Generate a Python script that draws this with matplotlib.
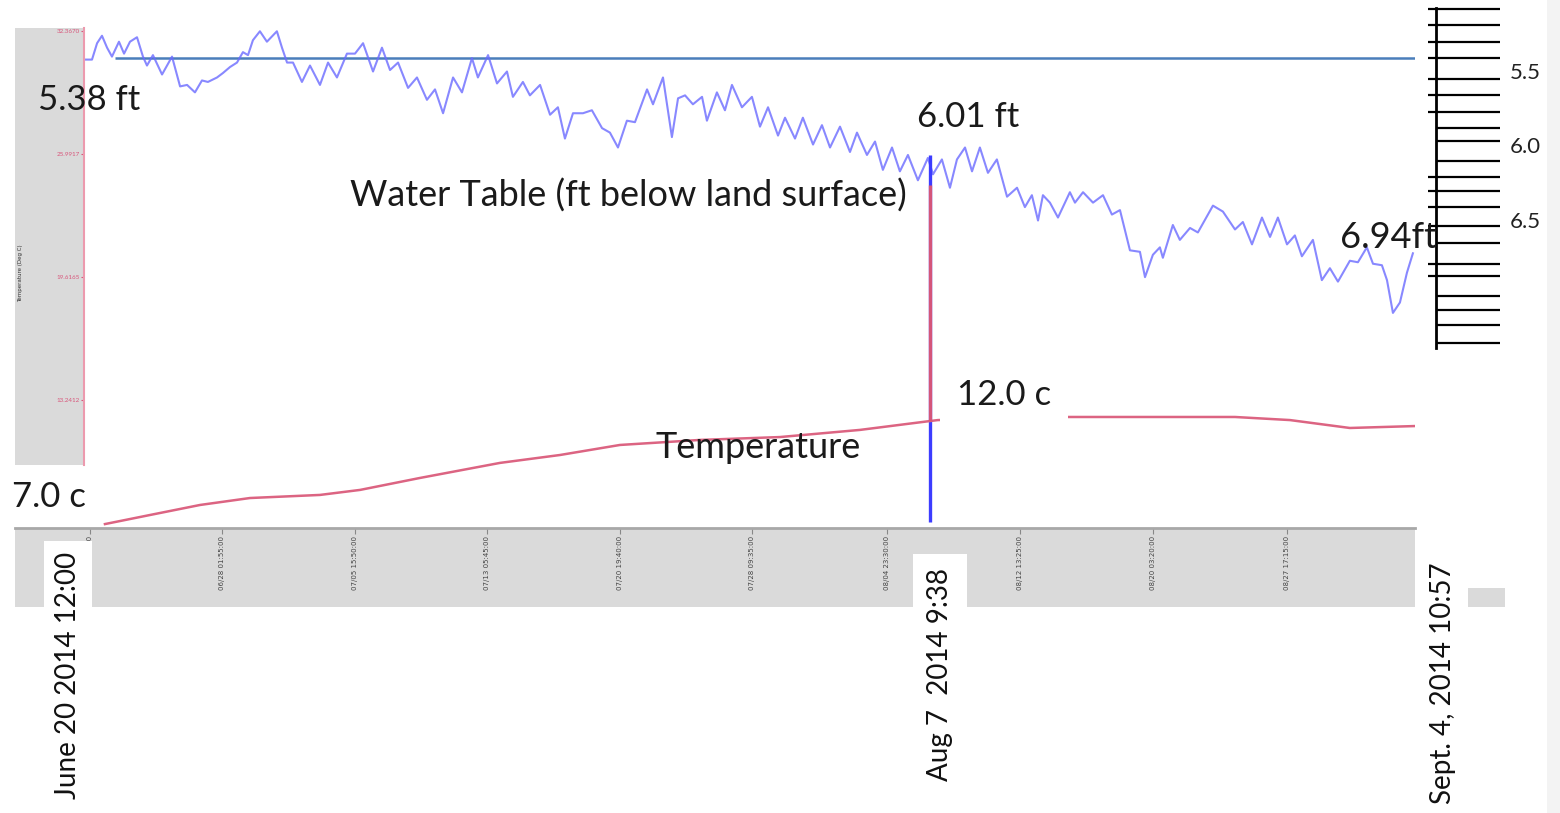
import matplotlib.pyplot as plt
from matplotlib.patches import Rectangle
from matplotlib.transforms import blended_transform_factory

plt.rcParams['font.family'] = ['Lato', 'DejaVu Sans']

W, H = 1560, 813

# water table (ft below land surface) vs days since June 20 2014 12:00
water_day = [0.06, 0.40, 0.69, 0.97, 1.26, 1.54, 1.94, 2.23, 2.57, 2.97, 3.31, 3.54, 3.88, 4.40, 4.97,
             5.43, 5.83, 6.28, 6.68, 7.02, 7.54, 7.88, 8.28, 8.68, 9.02, 9.31, 9.59, 9.99, 10.39, 10.96,
             11.25, 11.54, 11.88, 12.39, 12.85, 13.42, 13.88, 14.39, 14.96, 15.42, 15.88, 16.45, 16.96,
             17.42, 17.88, 18.45, 18.96, 19.53, 19.99, 20.45, 21.02, 21.53, 22.10, 22.44, 23.02, 23.53,
             24.10, 24.44, 25.01, 25.41, 25.99, 26.56, 27.01, 27.41, 27.87, 28.44, 28.95, 29.53, 29.98,
             30.44, 30.95, 31.41, 32.10, 32.44, 33.01, 33.52, 33.87, 34.27, 34.72, 35.24, 35.52, 36.09,
             36.55, 36.95, 37.52, 38.09, 38.55, 39.01, 39.58, 39.98, 40.55, 41.00, 41.58, 42.09, 42.55,
             43.12, 43.69, 44.09, 44.66, 45.12, 45.57, 46.09, 46.54, 47.00, 47.57, 48.14, 48.43, 48.94,
             49.40, 49.80, 50.26, 50.66, 51.11, 51.57, 52.08, 52.66, 53.23, 53.68, 54.08, 54.43, 54.71,
             55.11, 55.57, 56.25, 56.54, 57.00, 57.57, 58.14, 58.65, 59.11, 59.68, 60.25, 60.54, 60.99,
             61.39, 61.56, 62.13, 62.53, 63.11, 63.56, 64.42, 64.99, 65.68, 66.13, 66.65, 67.22, 67.68,
             68.13, 68.65, 69.10, 69.50, 70.13, 70.64, 71.10, 71.56, 72.24, 72.70, 73.21, 73.56, 74.07,
             74.36, 74.70, 75.10, 75.50, 75.84]
water_ft = [5.41, 5.41, 5.30, 5.25, 5.33, 5.39, 5.29, 5.37, 5.29, 5.26, 5.39, 5.45, 5.38, 5.51, 5.39,
            5.59, 5.58, 5.63, 5.55, 5.56, 5.53, 5.50, 5.46, 5.43, 5.36, 5.38, 5.28, 5.22, 5.29, 5.22,
            5.33, 5.43, 5.43, 5.56, 5.45, 5.58, 5.43, 5.53, 5.37, 5.37, 5.30, 5.49, 5.33,
            5.48, 5.43, 5.60, 5.53, 5.68, 5.61, 5.77, 5.53, 5.63, 5.40, 5.53, 5.38, 5.57,
            5.49, 5.66, 5.56, 5.65, 5.58, 5.78, 5.73, 5.94, 5.77, 5.77, 5.75, 5.87, 5.90,
            6.00, 5.82, 5.83, 5.61, 5.71, 5.53, 5.93, 5.67, 5.65, 5.71, 5.66, 5.82, 5.63,
            5.75, 5.58, 5.73, 5.66, 5.86, 5.73, 5.92, 5.80, 5.94, 5.80, 5.98, 5.85, 6.00,
            5.86, 6.03, 5.90, 6.05, 5.96, 6.15, 6.00, 6.16, 6.05, 6.22, 6.07, 6.18, 6.08,
            6.27, 6.08, 6.00, 6.16, 6.00, 6.17, 6.08, 6.33, 6.27, 6.40, 6.32, 6.49, 6.32,
            6.37, 6.47, 6.30, 6.37, 6.30, 6.37, 6.32, 6.45, 6.42, 6.69, 6.70, 6.87, 6.72,
            6.67, 6.74, 6.52, 6.62, 6.54, 6.57, 6.39, 6.43, 6.55, 6.50, 6.65, 6.47, 6.60,
            6.47, 6.65, 6.59, 6.73, 6.62, 6.89, 6.81, 6.90, 6.76, 6.77, 6.67, 6.78, 6.79,
            6.89, 7.11, 7.04, 6.84, 6.71]

# temperature (deg C)
temp_day = [1.14, 3.71, 6.57, 9.42, 13.42, 15.71, 19.13, 23.70, 27.13, 30.55, 35.12, 39.69, 44.26,
            48.26, 48.71, 56.14, 60.82, 65.68, 68.82, 72.24, 75.96]
temp_c = [6.81, 7.28, 7.80, 8.16, 8.32, 8.58, 9.20, 9.98, 10.39, 10.91, 11.17, 11.32, 11.69,
          12.15, 12.20, 12.36, 12.36, 12.36, 12.20, 11.79, 11.89]

end_day = 75.96
ref_ft = 5.40
ref_start_day = 1.71
cursor_day = 48.26
cursor_ft = 6.05
cursor_c = 12.15
cursor_red_top_c = 24.4

temp_ticks = [13.2412, 19.6165, 25.9917, 32.3670]
temp_tick_labels = ['13.2412', '19.6165', '25.9917', '32.3670']

ruler_major = [5.07, 5.18, 5.29, 5.40, 5.54, 5.65, 5.76, 5.87, 5.96, 6.09, 6.20, 6.29, 6.40, 6.53,
               6.64, 6.78, 6.86, 7.00, 7.09, 7.19, 7.31]
ruler_minor = [5.07, 5.18, 5.29, 5.40, 5.54, 5.65, 5.76, 6.20, 6.29, 6.40, 6.53, 6.78, 6.86]
ruler_labels = [5.5, 6.0, 6.5]

strip_tick_days = [0.29, 7.82, 15.42, 22.96, 30.55, 38.09, 45.80, 53.40, 60.99, 68.65]
strip_tick_labels = ['06/20 12:00:00', '06/28 01:55:00', '07/05 15:50:00', '07/13 05:45:00',
                     '07/20 19:40:00', '07/28 09:35:00', '08/04 23:30:00', '08/12 13:25:00',
                     '08/20 03:20:00', '08/27 17:15:00']


def rect(x0, y0, x1, y1):
    return [x0 / W, 1 - y1 / H, (x1 - x0) / W, (y1 - y0) / H]


def place(x, y):
    return x / W, 1 - y / H


fig = plt.figure(figsize=(W / 100, H / 100), dpi=100)
fig.patch.set_facecolor('white')

# main plot area
water_lim = (8.54, 5.198)
temp_lim = (6.71, 32.52)
ax = fig.add_axes(rect(85, 28, 1415, 526))
ax.patch.set_visible(False)
ax.set_xlim(0, end_day)
ax.set_ylim(*water_lim)
ax.axis('off')
axt = ax.twinx()
axt.set_ylim(*temp_lim)
axt.axis('off')

ax.hlines(ref_ft, ref_start_day, end_day, color='#4a7ebb', lw=1.8)
ax.plot(water_day, water_ft, color='#6b6bff', lw=1.5, alpha=0.8)
ax.vlines(cursor_day, cursor_ft, water_lim[0] - 0.03, color='#3c3cff', lw=2.4)
axt.plot(temp_day, temp_c, color='#dc6482', lw=1.8)
axt.vlines(cursor_day, cursor_c, cursor_red_top_c, color='#d4557a', lw=2.4)

# gray temperature scale on the left
axp = fig.add_axes(rect(15, 28, 84, 465))
axp.set_facecolor('#dadada')
panel_lo = temp_lim[1] - (temp_lim[1] - temp_lim[0]) * (465 - 28) / (526 - 28)
axp.set_ylim(panel_lo, temp_lim[1])
axp.set_xticks([])
for s in ['top', 'right', 'bottom']:
    axp.spines[s].set_visible(False)
axp.spines['left'].set_position(('axes', 1.0))
axp.spines['left'].set_color('#ec9aae')
axp.spines['left'].set_linewidth(1.5)
axp.set_yticks(temp_ticks, temp_tick_labels)
axp.tick_params(axis='y', colors='#d8557a', labelsize=4.5, length=2, pad=1)
axp.text(0.08, 0.44, 'Temperature (Deg C)', rotation=90, fontsize=4, color='#333333',
         transform=axp.transAxes, ha='center', va='center', family='DejaVu Sans')

# gray time strip
axs = fig.add_axes(rect(15, 528, 1415, 607))
axs.set_facecolor('#dadada')
strip_lo = -end_day * (85 - 15) / (1415 - 85)
axs.set_xlim(strip_lo, end_day)
axs.set_ylim(0, 1)
for s in ['left', 'right', 'bottom']:
    axs.spines[s].set_visible(False)
axs.spines['top'].set_color('#a8a8a8')
axs.spines['top'].set_linewidth(2)
axs.set_yticks([])
axs.set_xticks(strip_tick_days)
axs.tick_params(axis='x', direction='in', top=True, bottom=False, labelbottom=False,
                length=4, color='#888888')
for d, lab in zip(strip_tick_days, strip_tick_labels):
    axs.text(d, 0.9, lab, rotation=90, ha='center', va='top', fontsize=5,
             color='#444444', family='DejaVu Sans')

# depth ruler on the right
axr = fig.add_axes(rect(1436, 8, 1500, 348))
axr.patch.set_visible(False)
axr.set_ylim(7.346, 5.064)
axr.set_xlim(0, 1)
for s in ['top', 'right', 'bottom']:
    axr.spines[s].set_visible(False)
axr.spines['left'].set_linewidth(2)
axr.set_xticks([])
axr.set_yticks(ruler_major)
axr.set_yticks(ruler_minor, minor=True)
axr.yaxis.remove_overlapping_locs = False
axr.tick_params(axis='y', which='major', direction='in', length=46, width=1.6, labelleft=False)
axr.tick_params(axis='y', which='minor', direction='out', length=6, width=1.6, labelleft=False)
tr = blended_transform_factory(axr.transAxes, axr.transData)
for v in ruler_labels:
    axr.text(1.15, v, f'{v:.1f}', transform=tr, ha='left', va='center', fontsize=16, color='#222222')

# annotations
txt = dict(color='#1a1a1a', va='center', ha='left')
fig.text(*place(38, 100), '5.38 ft', fontsize=25, **txt)
fig.text(*place(917, 117), '6.01 ft', fontsize=25, **txt)
fig.text(*place(350, 196), 'Water Table (ft below land surface)', fontsize=26, **txt)
fig.text(*place(1340, 237), '6.94ft', fontsize=26, **txt)
fig.text(*place(957, 395), '12.0 c', fontsize=25,
         bbox=dict(boxstyle='square,pad=0.5', fc='white', ec='none'), **txt)
fig.text(*place(655, 447), 'Temperature', fontsize=26, **txt)
fig.text(*place(12, 497), '7.0 c', fontsize=25, **txt)

# date labels under the strip
fig.text(*place(68, 552), 'June 20 2014 12:00', rotation=90, ha='center', va='top', fontsize=20,
         color='#111111', bbox=dict(boxstyle='square,pad=0.4', fc='white', ec='none'))
fig.text(*place(940, 568), 'Aug 7  2014 9:38', rotation=90, ha='center', va='top', fontsize=20,
         color='#111111', bbox=dict(boxstyle='square,pad=0.5', fc='white', ec='none'))
fig.text(*place(1443, 562), 'Sept. 4, 2014 10:57', rotation=90, ha='center', va='top', fontsize=20,
         color='#111111')

fig.add_artist(Rectangle(place(1468, 607), 37 / W, 19 / H, transform=fig.transFigure,
                         fc='#dadada', ec='none'))
fig.add_artist(Rectangle(place(1547, 813), 13 / W, 1, transform=fig.transFigure,
                         fc='#f3f3f3', ec='none', zorder=5))

fig.savefig('out.png', dpi=100)
